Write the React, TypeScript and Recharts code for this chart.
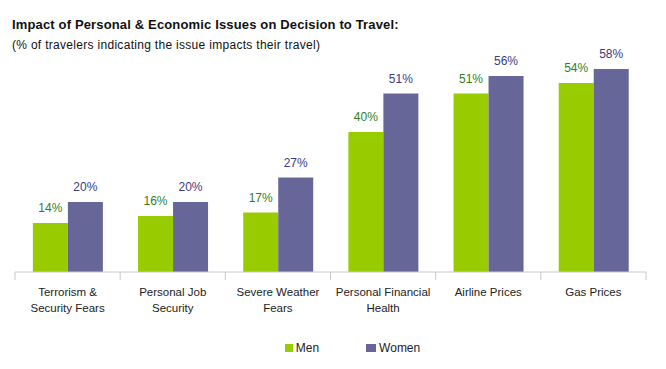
import React from "react";
import { BarChart, Bar, XAxis, YAxis, LabelList, Legend } from "recharts";

const categories = [
  "Terrorism &\nSecurity Fears",
  "Personal Job\nSecurity",
  "Severe Weather\nFears",
  "Personal Financial\nHealth",
  "Airline Prices",
  "Gas Prices",
];
const men = [14, 16, 17, 40, 51, 54];
const women = [20, 20, 27, 51, 56, 58];

const data = categories.map((c, i) => ({ name: c, men: men[i], women: women[i] }));

const FONT = "'Liberation Sans', Arial, sans-serif";
const MEN_COLOR = "#99cc00";
const WOMEN_COLOR = "#666699";

const CategoryTick = (props: any) => {
  const { x, y, payload, index, width } = props;
  const band = (width || 631) / categories.length;
  const lines = String(payload.value).split("\n");
  const isLast = index === categories.length - 1;
  return (
    <g>
      <line x1={x - band / 2} x2={x - band / 2} y1={y - 8} y2={y} stroke="#c8c8c8" />
      {isLast && (
        <line x1={x + band / 2} x2={x + band / 2} y1={y - 8} y2={y} stroke="#c8c8c8" />
      )}
      <text textAnchor="middle" fontFamily={FONT} fontSize={11.5} fill="#222">
        {lines.map((l, i) => (
          <tspan key={i} x={x} y={y + 16 + i * 16}>
            {l}
          </tspan>
        ))}
      </text>
    </g>
  );
};

const LegendContent = () => (
  <div
    style={{
      height: 18,
      display: "flex",
      justifyContent: "center",
      gap: 47,
      fontFamily: FONT,
      fontSize: 12,
      color: "#222",
      paddingLeft: 44,
    }}
  >
    {[
      ["Men", MEN_COLOR],
      ["Women", WOMEN_COLOR],
    ].map(([label, color]) => (
      <div key={label} style={{ display: "flex", alignItems: "center", gap: 3 }}>
        <span style={{ width: label === "Men" ? 8 : 10, height: 8, background: color, display: "inline-block" }} />
        <span>{label}</span>
      </div>
    ))}
  </div>
);

export default function App() {
  return (
    <div style={{ position: "absolute", left: 0, top: 0, width: 666, height: 369, background: "#fff" }}>
      <div
        style={{
          position: "absolute",
          left: 12,
          top: 17,
          lineHeight: "15px",
          fontFamily: FONT,
          fontSize: 13,
          fontWeight: "bold",
          letterSpacing: 0.15,
          color: "#111",
        }}
      >
        Impact of Personal &amp; Economic Issues on Decision to Travel:
      </div>
      <div
        style={{
          position: "absolute",
          left: 12,
          top: 38,
          lineHeight: "14px",
          fontFamily: FONT,
          fontSize: 12,
          letterSpacing: 0.3,
          color: "#111",
        }}
      >
        (% of travelers indicating the issue impacts their travel)
      </div>
      <BarChart
        width={666}
        height={369}
        data={data}
        margin={{ top: 62, right: 20, left: 15, bottom: 12 }}
        barGap={0}
        barCategoryGap="17%"
      >
        <XAxis
          dataKey="name"
          axisLine={{ stroke: "#c8c8c8" }}
          tickLine={false}
          tick={<CategoryTick />}
          interval={0}
          height={67}
        />
        <YAxis hide domain={[0, 60]} />
        <Legend verticalAlign="bottom" content={<LegendContent />} />
        <Bar dataKey="men" fill={MEN_COLOR} isAnimationActive={false}>
          <LabelList
            dataKey="men"
            position="top"
            offset={11}
            formatter={(v: any) => `${v}%`}
            style={{ fontFamily: FONT, fontSize: 12, fill: "#2f7f1f" }}
          />
        </Bar>
        <Bar dataKey="women" fill={WOMEN_COLOR} isAnimationActive={false}>
          <LabelList
            dataKey="women"
            position="top"
            offset={11}
            formatter={(v: any) => `${v}%`}
            style={{ fontFamily: FONT, fontSize: 12, fill: "#3b3b85" }}
          />
        </Bar>
      </BarChart>
    </div>
  );
}
